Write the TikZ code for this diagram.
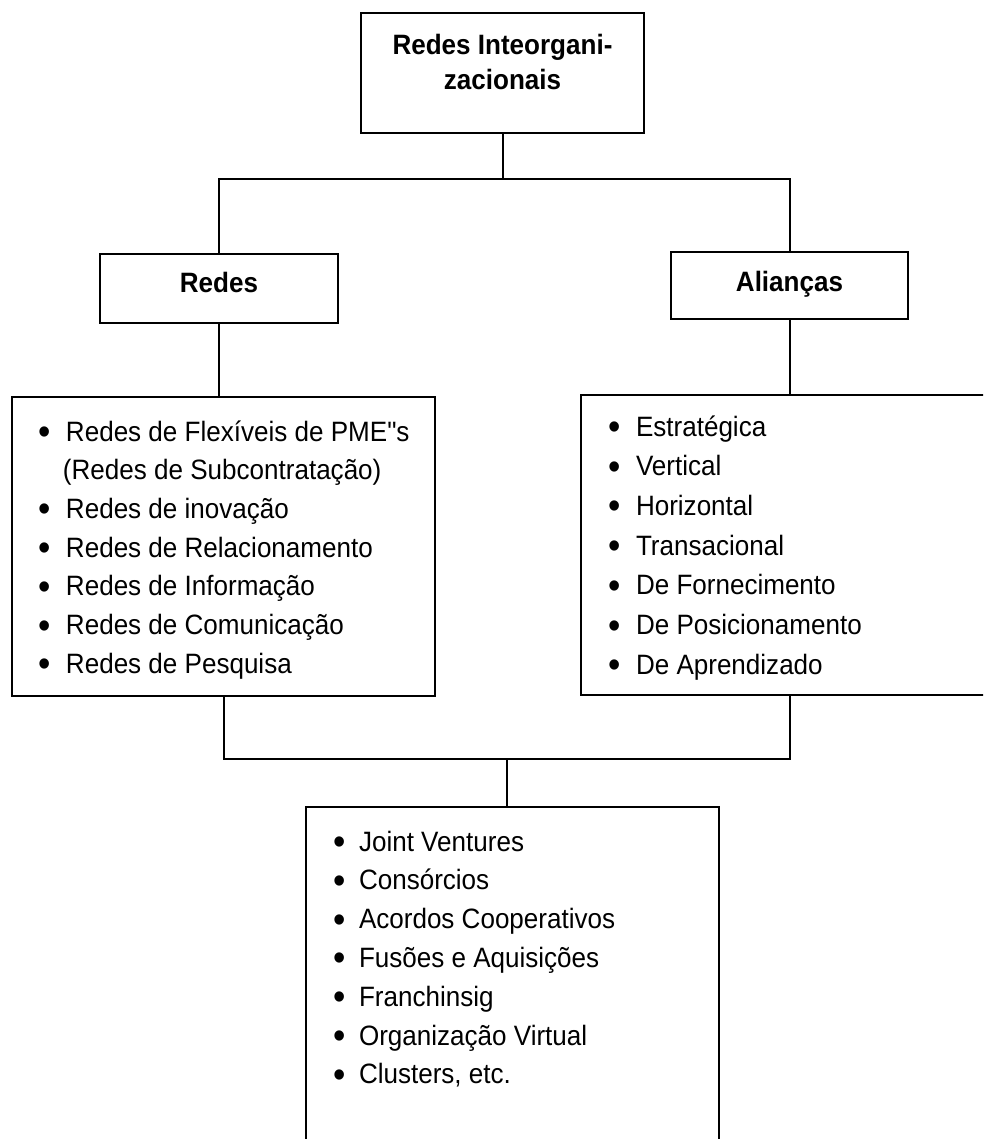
\documentclass[tikz,border=0pt]{standalone}
\usepackage{fontspec}
\setmainfont{Liberation Sans}[FakeStretch=0.93]
\newfontfamily\plainq{Liberation Sans}[FakeStretch=0.93]
\newcommand\bli[1][28pt]{\makebox[#1][l]{\raisebox{-3.5pt}{\scalebox{1.35}{•}}}}
\tikzset{
  box/.style={draw=black, line width=2pt, inner sep=0pt, fill=white, anchor=north west},
  conn/.style={draw=black, line width=2pt},
  every node/.style={font=\fontsize{28pt}{39pt}\selectfont}
}
\begin{document}
\begin{tikzpicture}[x=1pt,y=-1pt]
\useasboundingbox (0,0) rectangle (983,1139);
\clip (0,0) rectangle (983,1139);
\fill[white] (0,0) rectangle (983,1139);

% top box
\node[box] (top) at (360,12) {\begin{minipage}[c][120pt][t]{283pt}\fontsize{28pt}{35pt}\selectfont\centering\bfseries
\rule{0pt}{42pt}Redes Inteorgani-\\zacionais\end{minipage}};

% second level
\node[box] (redes) at (99,253) {\begin{minipage}[c][69pt][t]{238pt}\centering\bfseries
\rule{0pt}{39pt}Redes\end{minipage}};
\node[box] (alian) at (670,251) {\begin{minipage}[c][67pt][t]{237pt}\centering\bfseries
\rule{0pt}{39pt}Alianças\end{minipage}};

% list boxes
\node[box] (lrede) at (11,396) {\begin{minipage}[c][299pt][t]{423pt}\fontsize{28pt}{38.7pt}\selectfont
\rule{0pt}{44pt}\hspace*{26pt}\bli Redes de Flexíveis de PME{\plainq"}s\\
\hspace*{51pt}(Redes de Subcontratação)\\
\hspace*{26pt}\bli Redes de inovação\\
\hspace*{26pt}\bli Redes de Relacionamento\\
\hspace*{26pt}\bli Redes de Informação\\
\hspace*{26pt}\bli Redes de Comunicação\\
\hspace*{26pt}\bli Redes de Pesquisa\end{minipage}};

\node[box] (ralian) at (580,394) {\begin{minipage}[c][300pt][t]{418pt}\fontsize{28pt}{39.7pt}\selectfont
\rule{0pt}{41pt}\hspace*{27pt}\bli Estratégica\\
\hspace*{27pt}\bli Vertical\\
\hspace*{27pt}\bli Horizontal\\
\hspace*{27pt}\bli Transacional\\
\hspace*{27pt}\bli De Fornecimento\\
\hspace*{27pt}\bli De Posicionamento\\
\hspace*{27pt}\bli De Aprendizado\end{minipage}};

\node[box] (bottom) at (305,806) {\begin{minipage}[c][360pt][t]{413pt}\fontsize{28pt}{38.8pt}\selectfont
\rule{0pt}{44pt}\hspace*{27pt}\bli[26pt]Joint Ventures\\
\hspace*{27pt}\bli[26pt]Consórcios\\
\hspace*{27pt}\bli[26pt]Acordos Cooperativos\\
\hspace*{27pt}\bli[26pt]Fusões e Aquisições\\
\hspace*{27pt}\bli[26pt]Franchinsig\\
\hspace*{27pt}\bli[26pt]Organização Virtual\\
\hspace*{27pt}\bli[26pt]Clusters, etc.\end{minipage}};

% connectors
\coordinate (j1) at (top.south |- 0,179);
\draw[conn] (top.south) -- (j1);
\draw[conn] (redes.north) |- (j1) -| (alian.north);
\draw[conn] (redes.south) -- (redes.south |- lrede.north);
\draw[conn] (alian.south) -- (alian.south |- ralian.north);
\coordinate (j2) at (507,759);
\draw[conn] (lrede.south) |- (j2) -| (ralian.south);
\draw[conn] (j2) -- (j2 |- bottom.north);
\end{tikzpicture}
\end{document}
